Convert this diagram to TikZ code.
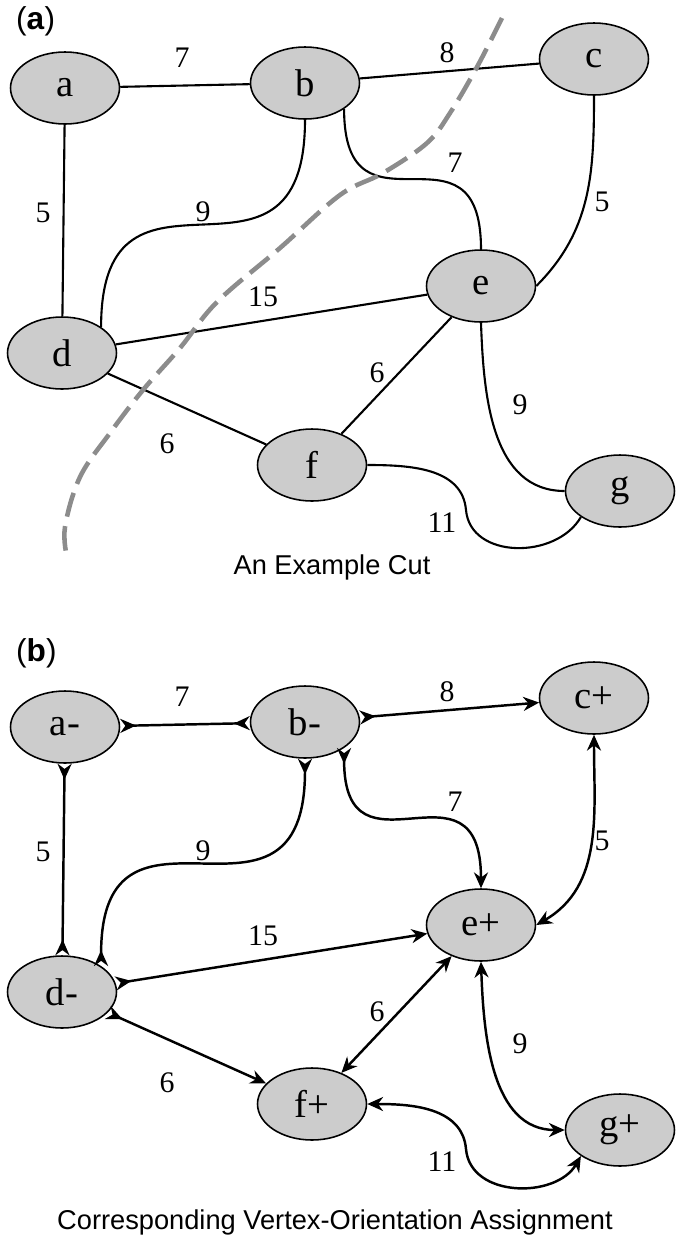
\documentclass[tikz,border=0pt]{standalone}
\usepackage{fontspec}
\setmainfont{Liberation Serif}
\setsansfont{Liberation Sans}
\usetikzlibrary{shapes.geometric,arrows.meta}
\definecolor{vertexgray}{RGB}{204,204,204}
\definecolor{cutgray}{RGB}{140,140,140}
\tikzset{
  vertex/.style={shape=ellipse, draw=black, line width=0.9pt, fill=vertexgray,
    minimum width=2.18cm, minimum height=1.44cm, inner sep=0pt,
    font=\fontsize{22}{26}\selectfont},
  weight/.style={font=\fontsize{17}{20}\selectfont},
  caption/.style={font=\sffamily\fontsize{15.5}{18}\selectfont},
  panel/.style={font=\sffamily\fontsize{18}{21}\selectfont, anchor=west},
  edge/.style={draw=black, line width=1.2pt},
  oriented/.style={draw=black, line width=1.4pt},
  cut/.style={draw=cutgray, line width=2.6pt, dash pattern=on 14pt off 5.5pt},
  Neg/.tip={Stealth[length=9pt,width=8pt,reversed]},
  Pos/.tip={Stealth[length=9pt,width=8pt]},
}
\begin{document}
\begin{tikzpicture}[x=0.02cm, y=-0.02cm]
\useasboundingbox (0,0) rectangle (680,1242);

% (a) the cut
\node[panel] (panel-a) at (10,21) {(\textbf{a})};
\node[vertex] (a) at (65,88) {a};
\node[vertex] (b) at (305,83) {b};
\node[vertex] (c) at (594,59) {c};
\node[vertex] (d) at (62,353) {d};
\node[vertex] (e) at (481,286) {e};
\node[vertex] (f) at (312,465) {f};
\node[vertex] (g) at (620,491) {g};

\draw[edge] (a) -- (b);
\draw[edge] (b) -- (c);
\draw[edge] (a) -- (d);
\draw[edge] (b.south) .. controls +(0,200) and +(0,-197) .. (d.north east);
\draw[edge] (b.south east) .. controls +(0,140) and +(0,-140) .. (e.north);
\draw[edge] (c.south) to[out=-90,in=45] (e.east);
\draw[edge] (d) -- (e);
\draw[edge] (d) -- (f);
\draw[edge] (e) -- (f);
\draw[edge] (e.south) to[out=-88,in=180] (g.west);
\draw[edge] (f.east) to[out=0,in=95] (466,510) to[out=-85,in=-120,looseness=1.1] (g.south west);

\node[weight] (w-ab) at (182,58) {7};
\node[weight] (w-bc) at (447,53) {8};
\node[weight] (w-ad) at (43,213) {5};
\node[weight] (w-bd) at (203,212) {9};
\node[weight] (w-be) at (455,163) {7};
\node[weight] (w-ce) at (602,202) {5};
\node[weight] (w-de) at (263,297) {15};
\node[weight] (w-ef) at (377,373) {6};
\node[weight] (w-eg) at (520,405) {9};
\node[weight] (w-df) at (167,444) {6};
\node[weight] (w-fg) at (442,523) {11};

\draw[cut] plot[smooth, tension=0.6] coordinates {(502,18) (477,67) (450,113) (427,143)
  (383,173) (340,195) (280,248) (217,302) (180,348) (143,390) (110,433) (80,477) (65,527) (67,557)};

\node[caption] (caption-a) at (332,567) {An Example Cut};

% (b) vertex orientations
\node[panel] (panel-b) at (10,653) {(\textbf{b})};
\node[vertex] (am) at (65,727) {a-};
\node[vertex] (bm) at (305,722) {b-};
\node[vertex] (cp) at (594,698) {c+};
\node[vertex] (dm) at (62,992) {d-};
\node[vertex] (ep) at (481,925) {e+};
\node[vertex] (fp) at (312,1104) {f+};
\node[vertex] (gp) at (620,1130) {g+};

\draw[oriented, Neg-Neg] (am) -- (bm);
\draw[oriented, Neg-Pos] (bm) -- (cp);
\draw[oriented, Neg-Neg] (am) -- (dm);
\draw[oriented, Neg-Neg] (bm.south) .. controls +(0,200) and +(0,-197) .. (dm.north east);
\draw[oriented, Neg-Pos] (bm.south east) .. controls +(0,140) and +(0,-140) .. (ep.north);
\draw[oriented, Pos-Pos] (cp.south) to[out=-90,in=30] (ep.east);
\draw[oriented, Neg-Pos] (dm) -- (ep);
\draw[oriented, Neg-Pos] (dm) -- (fp);
\draw[oriented, Pos-Pos] (ep) -- (fp);
\draw[oriented, Pos-Pos] (ep.south) to[out=-88,in=180] (gp.west);
\draw[oriented, Pos-Pos] (fp.east) to[out=0,in=95] (466,1149) to[out=-85,in=-120,looseness=1.1] (gp.south west);

\node[weight] (v-ab) at (182,697) {7};
\node[weight] (v-bc) at (447,692) {8};
\node[weight] (v-ad) at (43,852) {5};
\node[weight] (v-bd) at (203,851) {9};
\node[weight] (v-be) at (455,802) {7};
\node[weight] (v-ce) at (602,841) {5};
\node[weight] (v-de) at (263,936) {15};
\node[weight] (v-ef) at (377,1012) {6};
\node[weight] (v-eg) at (520,1044) {9};
\node[weight] (v-df) at (167,1083) {6};
\node[weight] (v-fg) at (442,1162) {11};

\node[caption] (caption-b) at (335,1222) {Corresponding Vertex-Orientation Assignment};
\end{tikzpicture}
\end{document}
